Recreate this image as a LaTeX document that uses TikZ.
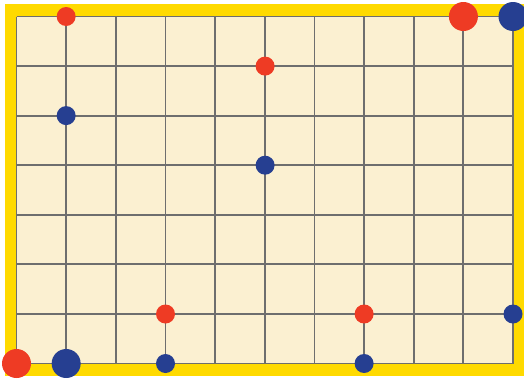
\documentclass[tikz,border=0pt]{standalone}
\definecolor{frameyellow}{HTML}{FFDA00}
\definecolor{cream}{HTML}{FBF0D1}
\definecolor{gridgray}{HTML}{6E6E6E}
\definecolor{dotred}{HTML}{EE3B24}
\definecolor{dotblue}{HTML}{263F91}
\begin{document}
\begin{tikzpicture}[x=1pt,y=-1pt,
  smalldot/.style={circle,inner sep=0pt,minimum size=19pt},
  bigdot/.style={circle,inner sep=0pt,minimum size=29pt},
  reddot/.style={fill=dotred},
  bluedot/.style={fill=dotblue}]
\useasboundingbox (0,0) rectangle (524,378);
\fill[white] (0,0) rectangle (524,378);
\fill[frameyellow] (5,4) rectangle (524,376);
\fill[cream] (16.5,16.5) rectangle (513,363.5);
\foreach \i in {0,...,10} {
  \draw[gridgray,line width=1.8pt] ({16.5+\i*49.65},16.5) -- ({16.5+\i*49.65},363.5);
}
\foreach \j in {0,...,7} {
  \draw[gridgray,line width=1.8pt] (16.5,{16.5+\j*49.57}) -- (513,{16.5+\j*49.57});
}
% small dots
\node[smalldot,reddot] (r1) at (66.15,16.5) {};
\node[smalldot,reddot] (r2) at (265.1,66.1) {};
\node[smalldot,bluedot] (b1) at (66.15,115.6) {};
\node[smalldot,bluedot] (b2) at (265.1,165.2) {};
\node[smalldot,reddot] (r3) at (165.5,314) {};
\node[smalldot,reddot] (r4) at (364.1,314) {};
\node[smalldot,bluedot] (b3) at (513,314) {};
\node[smalldot,bluedot] (b4) at (165.5,363.5) {};
\node[smalldot,bluedot] (b5) at (364.1,363.5) {};
% big dots
\node[bigdot,reddot] (R1) at (16.5,363.5) {};
\node[bigdot,bluedot] (B1) at (66.15,363.5) {};
\node[bigdot,reddot] (R2) at (463.4,16.5) {};
\node[bigdot,bluedot] (B2) at (513,16.5) {};
\end{tikzpicture}
\end{document}
